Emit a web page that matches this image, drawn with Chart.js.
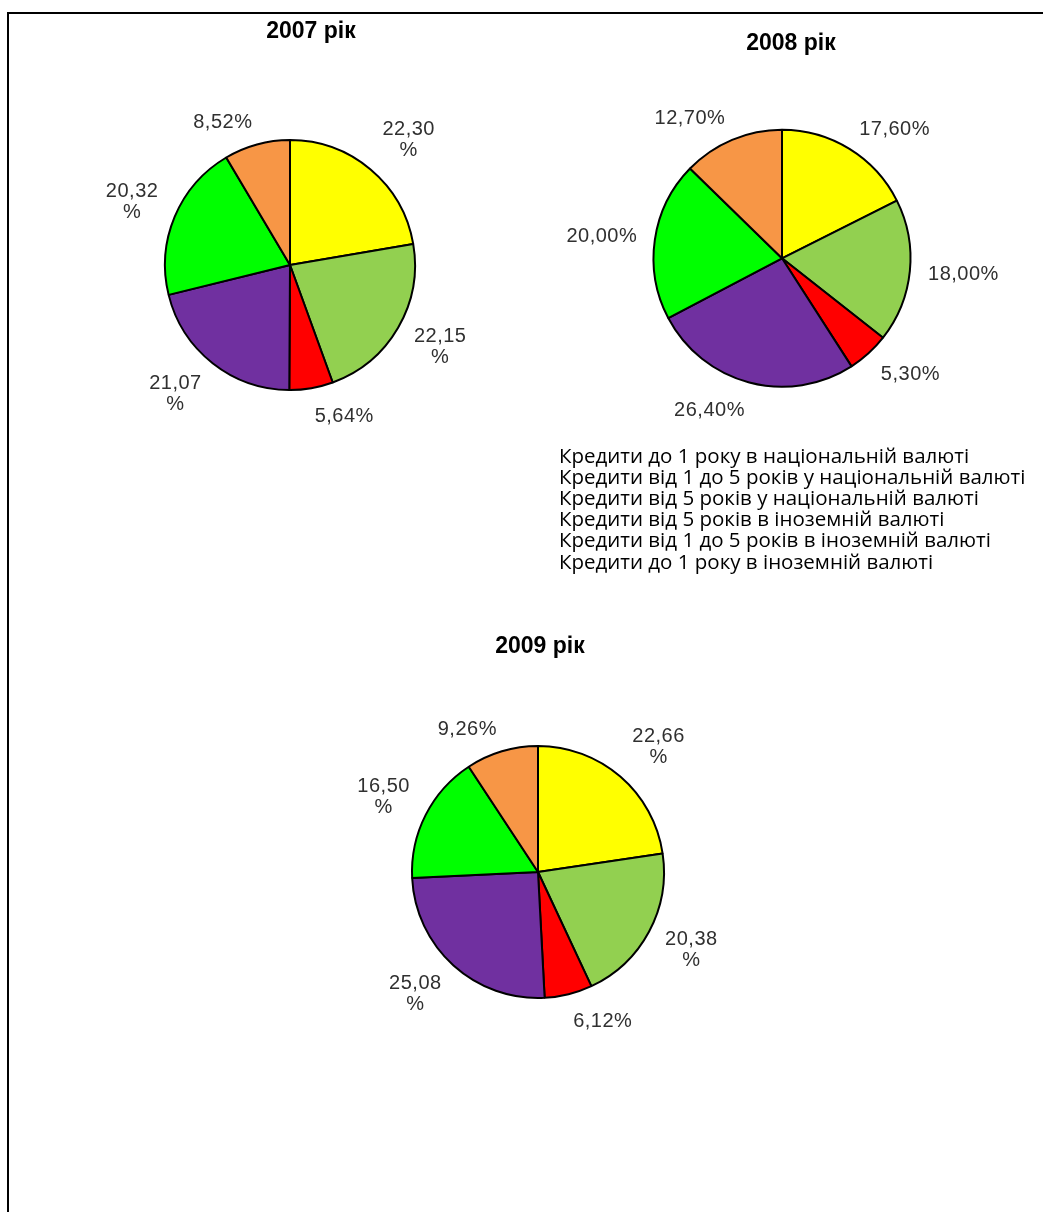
<!DOCTYPE html>
<html>
<head>
<meta charset="utf-8">
<script src="https://cdn.jsdelivr.net/npm/chart.js@4.4.1/dist/chart.umd.min.js"></script>
<style>
  html, body { margin: 0; padding: 0; background: #fff; }
  body { width: 1043px; height: 1212px; overflow: hidden; position: relative; }
  #frame { position: absolute; left: 7px; top: 12px; width: 1100px; height: 1300px;
           border-left: 2px solid #000; border-top: 2px solid #000; }
  canvas { position: absolute; }
</style>
</head>
<body>
<div id="frame"></div>
<canvas id="c2007" width="500" height="500" style="left:40px;top:15px"></canvas>
<canvas id="c2009" width="500" height="500" style="left:288px;top:622px"></canvas>
<canvas id="c2008" width="522" height="568" style="left:521px;top:15px"></canvas>
<script>
// ---- data ----
const categories = [
  'Кредити до 1 року в національній валюті',
  'Кредити від 1 до 5 років у національній валюті',
  'Кредити від 5 років у національній валюті',
  'Кредити від 5 років в іноземній валюті',
  'Кредити від 1 до 5 років в іноземній валюті',
  'Кредити до 1 року в іноземній валюті'
];
const years = ['2007', '2008', '2009'];
const share2007 = [22.30, 22.15, 5.64, 21.07, 20.32, 8.52];
const share2008 = [17.60, 18.00, 5.30, 26.40, 20.00, 12.70];
const share2009 = [22.66, 20.38, 6.12, 25.08, 16.50, 9.26];
const sliceColors = ['#FFFF00', '#92D050', '#FF0000', '#7030A0', '#00FF00', '#F79646'];

function fmt(v) { return v.toFixed(2).replace('.', ',') + '%'; }

// draws the year title and the percentage labels around the pie
const pieText = {
  id: 'pieText',
  afterDatasetsDraw(chart, args, opts) {
    const ctx = chart.ctx;
    const meta = chart.getDatasetMeta(0);
    const values = chart.data.datasets[0].data;
    const a0 = meta.data[0];
    const cx = a0.x, cy = a0.y, R = a0.outerRadius;
    ctx.save();
    ctx.textAlign = 'center';
    ctx.textBaseline = 'middle';
    // title
    ctx.fillStyle = '#000';
    ctx.font = 'bold 23px "Liberation Sans", Arial, sans-serif';
    ctx.fillText(opts.title, cx + opts.titleDx, cy + opts.titleDy);
    // labels
    ctx.font = '20px "Liberation Sans", Arial, sans-serif';
    try { ctx.letterSpacing = '0.5px'; } catch (e) {}
    ctx.fillStyle = '#303030';
    const lineH = 21, gap = 18;
    meta.data.forEach((arc, i) => {
      const txt = fmt(values[i]);
      const lines = (opts.wrap && txt.length > 5) ? [txt.slice(0, -1), '%'] : [txt];
      const w = Math.max(...lines.map(l => ctx.measureText(l).width));
      const halfW = w / 2, halfH = lines.length * lineH / 2;
      const th = (arc.startAngle + arc.endAngle) / 2;
      const dx = Math.cos(th), dy = Math.sin(th);
      const hy = (dy < 0 && lines.length === 1) ? halfH * 0.5 : halfH;
      const tx = cx + (R + gap) * dx + Math.sign(dx) * halfW;
      const ty = cy + (R + gap) * dy + dy * hy;
      lines.forEach((l, k) => {
        ctx.fillText(l, tx + 0.25, ty - halfH + lineH / 2 + k * lineH);
      });
    });
    ctx.restore();
  }
};

function makePie(id, year, values, radius, textOpts, legendOpts, padding) {
  return new Chart(document.getElementById(id), {
    type: 'pie',
    data: {
      labels: categories,
      datasets: [{
        data: values,
        backgroundColor: sliceColors,
        borderColor: '#000',
        borderWidth: 2,
        radius: radius
      }]
    },
    options: {
      responsive: false,
      animation: false,
      events: [],
      layout: { padding: padding || 0 },
      plugins: {
        legend: legendOpts || { display: false },
        tooltip: { enabled: false },
        pieText: Object.assign({ title: year + ' рік' }, textOpts)
      }
    },
    plugins: [pieText]
  });
}

makePie('c2007', years[0], share2007, 125, { titleDx: 21, titleDy: -233, wrap: true });
makePie('c2009', years[2], share2009, 126, { titleDx: 2, titleDy: -225, wrap: true });
makePie('c2008', years[1], share2008, 128.5, { titleDx: 9, titleDy: -215, wrap: false }, {
  display: true,
  position: 'bottom',
  align: 'start',
  onClick: null,
  labels: {
    boxWidth: 27,
    padding: 0.7,
    color: '#000',
    font: { family: '"Open Sans"', size: 20.5 },
    generateLabels(chart) {
      const items = Chart.overrides.pie.plugins.legend.labels.generateLabels(chart);
      items.forEach(it => {
        it.fillStyle = 'rgba(0,0,0,0)';
        it.strokeStyle = 'rgba(0,0,0,0)';
        it.lineWidth = 0;
      });
      return items;
    }
  }
}, { top: 55.75 });
</script>
</body>
</html>
